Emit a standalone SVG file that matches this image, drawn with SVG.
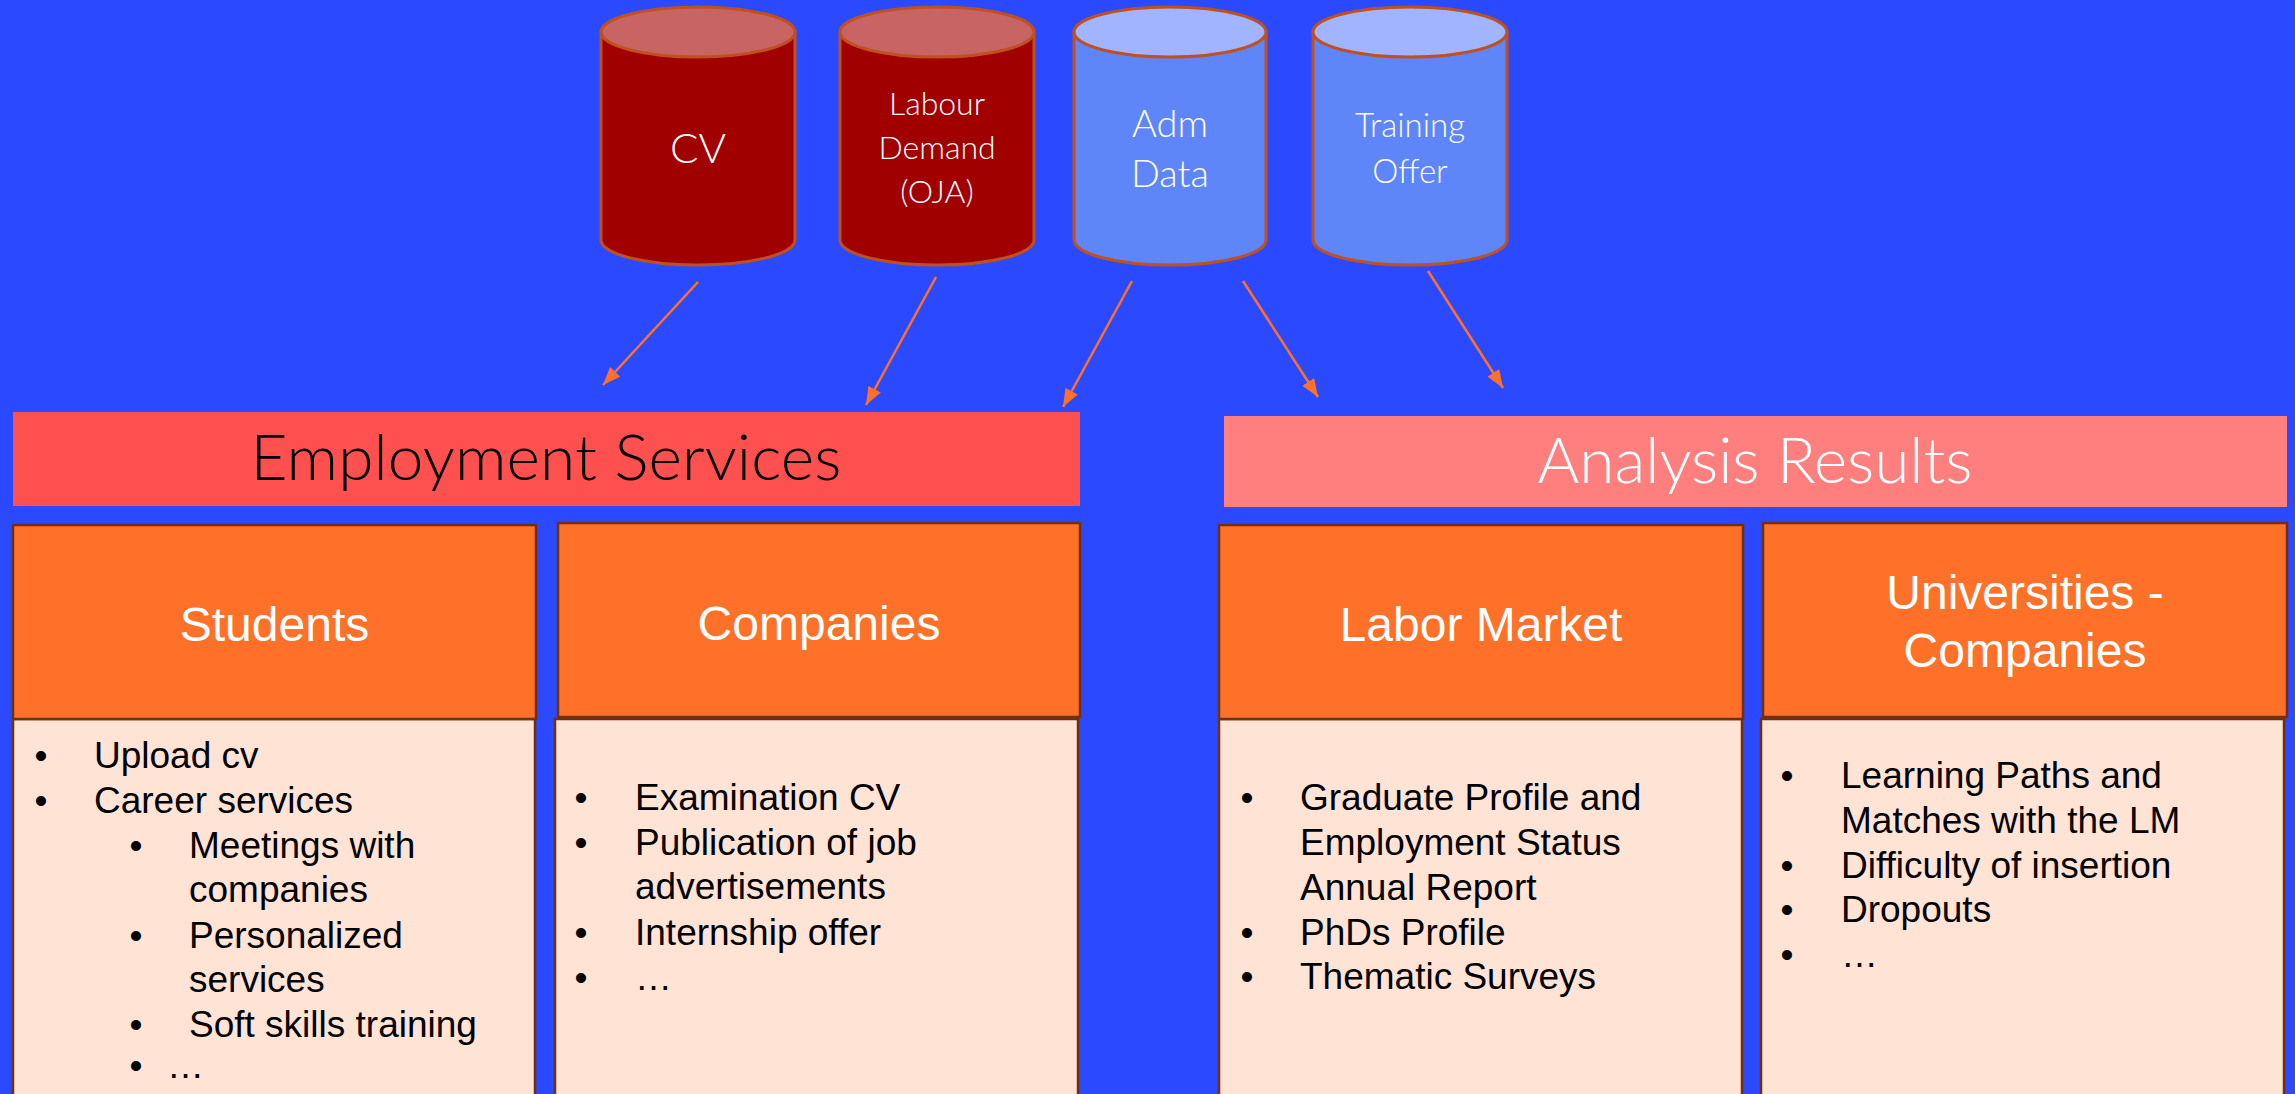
<svg xmlns="http://www.w3.org/2000/svg" width="2295" height="1094" viewBox="0 0 2295 1094">
  <style>
    .cyl-red .body { fill: #A00000; }
    .cyl-red .top { fill: #C86464; }
    .cyl-blue .body { fill: #5F86F9; }
    .cyl-blue .top { fill: #A0B4FF; }
    .cyl .body, .cyl .top { stroke: #C0501E; stroke-width: 3; }
    .cyl text { font-family: Lato, "Open Sans", sans-serif; font-weight: 300; fill: #FFFFFF; text-anchor: middle; }
    .bar text { font-family: Lato, "Open Sans", sans-serif; font-weight: 300; font-size: 64px; text-anchor: middle; }
    .hdr { fill: #FF7029; stroke: #70300E; stroke-width: 2.5; }
    .bdy { fill: #FFE3D5; stroke: #70300E; stroke-width: 2.5; }
    .title { font-family: "Liberation Sans", Arial, sans-serif; font-size: 48px; fill: #FFFFFF; text-anchor: middle; }
    .item { font-family: "Liberation Sans", Arial, sans-serif; font-size: 37px; fill: #000000; }
    .bul { font-family: "Liberation Sans", Arial, sans-serif; font-size: 37px; fill: #000000; text-anchor: middle; }
    .arrow { stroke: #FF7029; stroke-width: 2.5; fill: none; marker-end: url(#head); }
  </style>
  <defs>
    <marker id="head" markerUnits="userSpaceOnUse" markerWidth="20" markerHeight="14" refX="18" refY="7" orient="auto">
      <path d="M0,0 L18,7 L0,14 z" fill="#FF7029"/>
    </marker>
  </defs>

  <rect x="0" y="0" width="2295" height="1094" fill="#2B4AFF"/>

  <!-- data sources -->
  <g id="cv" class="cyl cyl-red">
    <path class="body" d="M601,32 L601,240 A97,25 0 0 0 795,240 L795,32 Z"/>
    <ellipse class="top" cx="698" cy="32" rx="97" ry="25"/>
    <text x="698" y="163" font-size="42">CV</text>
  </g>
  <g id="labour-demand" class="cyl cyl-red">
    <path class="body" d="M840,32 L840,240 A97,25 0 0 0 1034,240 L1034,32 Z"/>
    <ellipse class="top" cx="937" cy="32" rx="97" ry="25"/>
    <text x="937" y="115" font-size="32">Labour</text>
    <text x="937" y="159" font-size="32">Demand</text>
    <text x="937" y="203" font-size="32">(OJA)</text>
  </g>
  <g id="adm-data" class="cyl cyl-blue">
    <path class="body" d="M1074,32 L1074,240 A96,25 0 0 0 1266,240 L1266,32 Z"/>
    <ellipse class="top" cx="1170" cy="32" rx="96" ry="25"/>
    <text x="1170" y="137" font-size="38">Adm</text>
    <text x="1170" y="187" font-size="38">Data</text>
  </g>
  <g id="training-offer" class="cyl cyl-blue">
    <path class="body" d="M1313,32 L1313,240 A97,25 0 0 0 1507,240 L1507,32 Z"/>
    <ellipse class="top" cx="1410" cy="32" rx="97" ry="25"/>
    <text x="1410" y="137" font-size="33">Training</text>
    <text x="1410" y="183" font-size="33">Offer</text>
  </g>

  <!-- connectors -->
  <g id="connectors">
    <line class="arrow" x1="698" y1="282" x2="603" y2="385"/>
    <line class="arrow" x1="936" y1="277" x2="866" y2="405"/>
    <line class="arrow" x1="1132" y1="281" x2="1063" y2="407"/>
    <line class="arrow" x1="1243" y1="281" x2="1318" y2="397"/>
    <line class="arrow" x1="1428" y1="271" x2="1503" y2="388"/>
  </g>

  <!-- section bars -->
  <g id="employment-services" class="bar">
    <rect x="13" y="412" width="1067" height="94" fill="#FF5050"/>
    <text x="546" y="480" fill="#000000" textLength="591">Employment Services</text>
  </g>
  <g id="analysis-results" class="bar">
    <rect x="1224" y="416" width="1063" height="91" fill="#FF7F7F"/>
    <text x="1755" y="483" fill="#FFFFFF" textLength="435">Analysis Results</text>
  </g>

  <!-- Students -->
  <g id="students">
    <rect class="bdy" x="13" y="719" width="522" height="390"/>
    <rect class="hdr" x="13" y="525" width="523" height="194"/>
    <text class="title" x="274.5" y="641">Students</text>
    <text class="bul" x="41" y="768">•</text><text class="item" x="94" y="768">Upload cv</text>
    <text class="bul" x="41" y="813">•</text><text class="item" x="94" y="813">Career services</text>
    <text class="bul" x="136" y="858">•</text><text class="item" x="189" y="858">Meetings with</text>
    <text class="item" x="189" y="902">companies</text>
    <text class="bul" x="136" y="948">•</text><text class="item" x="189" y="948">Personalized</text>
    <text class="item" x="189" y="992">services</text>
    <text class="bul" x="136" y="1037">•</text><text class="item" x="189" y="1037">Soft skills training</text>
    <text class="bul" x="136" y="1078">•</text><text class="item" x="167" y="1078" font-size="26">…</text>
  </g>

  <!-- Companies -->
  <g id="companies">
    <rect class="bdy" x="555" y="719" width="523" height="390"/>
    <rect class="hdr" x="558" y="523" width="522" height="194"/>
    <text class="title" x="819" y="640">Companies</text>
    <text class="bul" x="581" y="810">•</text><text class="item" x="635" y="810">Examination CV</text>
    <text class="bul" x="581" y="855">•</text><text class="item" x="635" y="855">Publication of job</text>
    <text class="item" x="635" y="899">advertisements</text>
    <text class="bul" x="581" y="945">•</text><text class="item" x="635" y="945">Internship offer</text>
    <text class="bul" x="581" y="990">•</text><text class="item" x="635" y="990">…</text>
  </g>

  <!-- Labor Market -->
  <g id="labor-market">
    <rect class="bdy" x="1219" y="719" width="523" height="390"/>
    <rect class="hdr" x="1219" y="525" width="524" height="194"/>
    <text class="title" x="1481" y="641">Labor Market</text>
    <text class="bul" x="1247" y="810">•</text><text class="item" x="1300" y="810">Graduate Profile and</text>
    <text class="item" x="1300" y="855">Employment Status</text>
    <text class="item" x="1300" y="900">Annual Report</text>
    <text class="bul" x="1247" y="945">•</text><text class="item" x="1300" y="945">PhDs Profile</text>
    <text class="bul" x="1247" y="989">•</text><text class="item" x="1300" y="989">Thematic Surveys</text>
  </g>

  <!-- Universities - Companies -->
  <g id="universities-companies">
    <rect class="bdy" x="1761" y="719" width="523" height="390"/>
    <rect class="hdr" x="1763" y="523" width="524" height="194"/>
    <text class="title" x="2025" y="609">Universities -</text>
    <text class="title" x="2025" y="667">Companies</text>
    <text class="bul" x="1787" y="788">•</text><text class="item" x="1841" y="788">Learning Paths and</text>
    <text class="item" x="1841" y="833">Matches with the LM</text>
    <text class="bul" x="1787" y="878">•</text><text class="item" x="1841" y="878">Difficulty of insertion</text>
    <text class="bul" x="1787" y="922">•</text><text class="item" x="1841" y="922">Dropouts</text>
    <text class="bul" x="1787" y="967">•</text><text class="item" x="1841" y="967">…</text>
  </g>
</svg>
